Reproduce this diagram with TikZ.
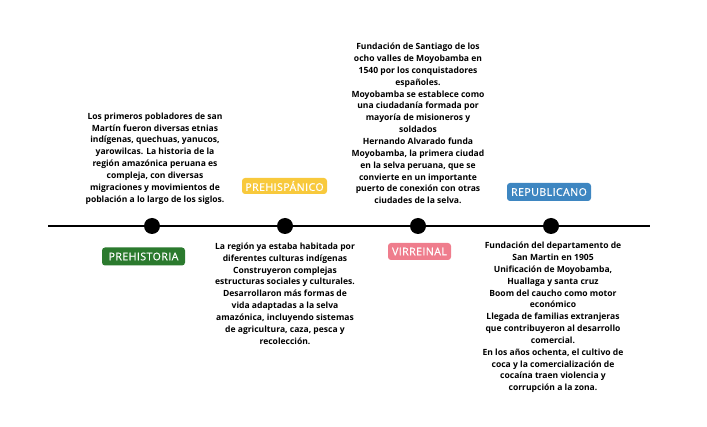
\documentclass[tikz,border=0pt]{standalone}
\usepackage{fontspec}
\setmainfont{Open Sans}
\newfontfamily\labelfont[LetterSpace=4,FakeBold=0.6]{Open Sans}
\usetikzlibrary{positioning}

\definecolor{prehistoria}{HTML}{2B7A2E}
\definecolor{prehispanico}{HTML}{F8C93C}
\definecolor{virreinal}{HTML}{EF7D8D}
\definecolor{republicano}{HTML}{3E86C1}

\tikzset{
  era/.style={rounded corners=3pt, text=white, inner sep=0pt, minimum height=18pt,
    font=\labelfont\fontsize{10.6}{11}\selectfont},
  hito/.style={circle, fill=black, inner sep=0pt, minimum size=16pt},
  relato/.style={align=center, inner sep=0pt, font=\bfseries\fontsize{8.55}{11.85}\selectfont}
}

\begin{document}
\begin{tikzpicture}[x=1pt, y=-1pt]

\useasboundingbox (0,0) rectangle (707,427);

\coordinate (inicio) at (48, 226);
\coordinate (fin) at (650, 226);

\draw[line width=2pt] (inicio) -- (fin);

\node[hito] (d1) at (152, 226) {};
\node[hito] (d2) at (285, 226) {};
\node[hito] (d3) at (418, 226) {};
\node[hito] (d4) at (551, 226) {};

\node[era, fill=prehistoria, minimum width=83pt] (e1) at (143.5, 256.5) {PREHISTORIA};
\node[era, fill=prehispanico, minimum width=85pt, minimum height=16pt] (e2) at (284.5, 186) {PREHISPÁNICO};
\node[era, fill=virreinal, minimum width=63pt, minimum height=17pt] (e3) at (419.5, 251.5) {VIRREINAL};
\node[era, fill=republicano, minimum width=84pt] (e4) at (549, 192) {REPUBLICANO};

\node[relato] (t1) at (155, 158.5) {Los primeros pobladores de san\\
Martín fueron diversas etnias\\
indígenas, quechuas, yanucos,\\
yarowilcas. La historia de la\\
región amazónica peruana es\\
compleja, con diversas\\
migraciones y movimientos de\\
población a lo largo de los siglos.};

\node[relato] (t2) at (285, 293.5) {La región ya estaba habitada por\\
diferentes culturas indígenas\\
Construyeron complejas\\
estructuras sociales y culturales.\\
Desarrollaron más formas de\\
vida adaptadas a la selva\\
amazónica, incluyendo sistemas\\
de agricultura, caza, pesca y\\
recolección.};

\node[relato] (t3) at (418, 123.5) {Fundación de Santiago de los\\
ocho valles de Moyobamba en\\
1540 por los conquistadores\\
españoles.\\
Moyobamba se establece como\\
una ciudadanía formada por\\
mayoría de misioneros y\\
soldados\\
Hernando Alvarado funda\\
Moyobamba, la primera ciudad\\
en la selva peruana, que se\\
convierte en un importante\\
puerto de conexión con otras\\
ciudades de la selva.};

\node[relato] (t4) at (553, 317.5) {Fundación del departamento de\\
San Martin en 1905\\
Unificación de Moyobamba,\\
Huallaga y santa cruz\\
Boom del caucho como motor\\
económico\\
Llegada de familias extranjeras\\
que contribuyeron al desarrollo\\
comercial.\\
En los años ochenta, el cultivo de\\
coca y la comercialización de\\
cocaína traen violencia y\\
corrupción a la zona.};

\end{tikzpicture}
\end{document}
